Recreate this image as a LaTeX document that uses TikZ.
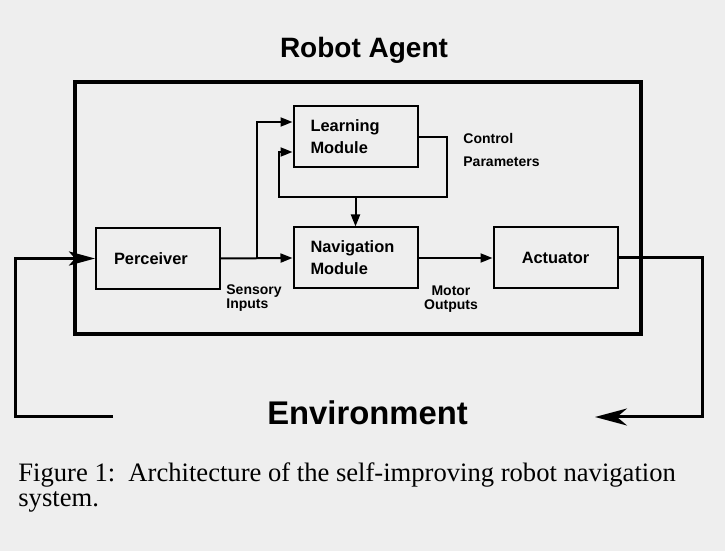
\documentclass[tikz,border=0pt]{standalone}
\usepackage{fontspec}
\setmainfont{Liberation Serif}
\setsansfont{Liberation Sans}
\usetikzlibrary{arrows.meta}
\definecolor{bgc}{RGB}{238,238,238}
\tikzset{
  boxnode/.style={draw, line width=1pt, minimum width=62pt, minimum height=30.5pt, inner sep=0pt,
    font=\fontsize{8.2}{11}\selectfont\sffamily\bfseries},
  leftlab/.style={text width=45pt, align=left},
  conn/.style={line width=1pt, -{Triangle[length=6pt,width=4.5pt]}},
  envline/.style={line width=1.5pt},
  smalllab/.style={inner sep=0pt, font=\fontsize{7}{7.3}\selectfont\sffamily\bfseries},
}
\begin{document}
\begin{tikzpicture}[x=0.5pt,y=-0.5pt]
\fill[bgc] (0,0) rectangle (725,551);
\useasboundingbox (0,0) rectangle (725,551);

% outer agent box
\node[draw, line width=2pt, minimum width=283pt, minimum height=126pt, inner sep=0pt] (agent) at (358,208.5) {};
\node[font=\fontsize{14}{16}\selectfont\sffamily\bfseries] (title) at (364,50) {Robot Agent};

% modules
\node[boxnode, text width=44pt, align=left] (perc) at (158,258.5) {Perceiver};
\node[boxnode, leftlab] (learn) at (355.5,137) {Learning\\Module};
\node[boxnode, leftlab] (nav) at (355.5,258) {Navigation\\Module};
\node[boxnode] (act) at (555.5,258) {Actuator};

% labels
\node[smalllab, anchor=north west, align=left] (sens) at (226,284) {Sensory\\Inputs};
\node[smalllab, anchor=north, align=center] (motor) at (451,285) {Motor\\Outputs};
\node[smalllab, anchor=north west, align=left, font=\fontsize{7}{11.5}\selectfont\sffamily\bfseries] (ctrl) at (463,133) {Control\\Parameters};

% internal connectors
\coordinate (br) at (256.5,258);
\coordinate (lp1) at (447,197);
\coordinate (lp2) at (279,197);
\draw[conn] (perc.east) -- (nav.west);
\draw[conn] (br) |- ([yshift=7.5pt]learn.west);
\draw[conn] (learn.east) -| (lp1) -- (lp2) |- ([yshift=-7.5pt]learn.west);
\draw[conn] (nav.north |- lp1) -- (nav.north);
\draw[conn] (nav.east) -- (act.west);

% environment loop
\coordinate (er) at (702,417);
\coordinate (etip) at (595,417);
\coordinate (el) at (113,417);
\coordinate (ell) at (15,417);
\draw[envline, -{Stealth[length=16pt,width=8.5pt,inset=5pt]}] (act.east) -| (er) -- (etip);
\draw[envline, -{Stealth[length=13pt,width=7pt,inset=3pt]}] (el) -- (ell) |- (perc.west);

\node[font=\fontsize{16.4}{18}\selectfont\sffamily\bfseries] (env) at (367.5,413) {Environment};

% caption
\node[anchor=north west, inner sep=0pt, align=left, font=\fontsize{13.3}{12.8}\selectfont] (caption) at (18,462)
  {Figure 1:\ \ Architecture of the self-improving robot navigation\\system.};
\end{tikzpicture}
\end{document}
